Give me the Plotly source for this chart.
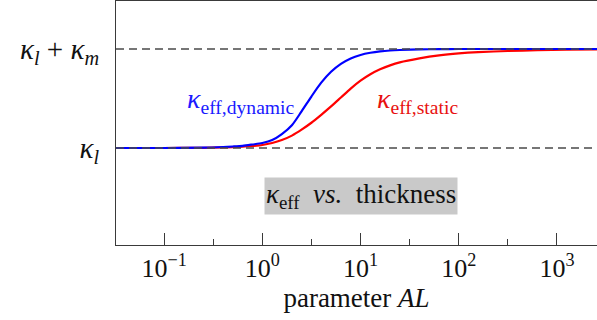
import plotly.graph_objects as go

# Effective stiffness versus thickness parameter AL (kappa_l = 1, kappa_l + kappa_m = 2)
al = [0.032, 0.1, 0.25, 0.4, 0.5, 0.63, 0.79, 1.0, 1.26, 1.58, 2.0, 2.51, 3.16, 3.98,
      5.01, 6.31, 7.94, 10, 12.6, 15.8, 20, 25.1, 39.8, 63.1, 100, 158, 316, 631,
      1259, 2570]
kappa_dynamic = [1.0, 1.0, 1.003, 1.01, 1.015, 1.022, 1.035, 1.05, 1.08, 1.14, 1.23,
                 1.37, 1.52, 1.66, 1.77, 1.85, 1.905, 1.94, 1.962, 1.976, 1.985, 1.99,
                 1.996, 1.999, 2.0, 2.0, 2.0, 2.0, 2.0, 2.0]
kappa_static = [1.0, 1.0, 1.002, 1.006, 1.008, 1.013, 1.02, 1.03, 1.05, 1.08, 1.125,
                1.185, 1.255, 1.335, 1.42, 1.51, 1.60, 1.68, 1.745, 1.795, 1.835, 1.865,
                1.905, 1.935, 1.955, 1.968, 1.98, 1.988, 1.993, 1.996]

kappa_levels = [1.0, 2.0]
kappa_level_labels = ["<i>κ</i><sub><i>l</i></sub>",
                      "<i>κ</i><sub><i>l</i></sub>\u2005+\u2005<i>κ</i><sub><i>m</i></sub>"]

x_tick_vals = [0.1, 1, 10, 100, 1000]
x_tick_text = ["10<sup>−1</sup>", "10<sup>0</sup>", "10<sup>1</sup>",
               "10<sup>2</sup>", "10<sup>3</sup>"]
x_minor_vals = [10 ** (k + 0.5) for k in range(-2, 4)]

FONT = "Liberation Serif"
SPINE = "#3a3a3a"

fig = go.Figure()

fig.add_trace(go.Scatter(x=al, y=kappa_static, mode="lines",
                         line=dict(color="#ff0000", width=2.2, shape="spline", smoothing=0.8),
                         showlegend=False, hoverinfo="skip"))
fig.add_trace(go.Scatter(x=al, y=kappa_dynamic, mode="lines",
                         line=dict(color="#0000ff", width=2.2, shape="spline", smoothing=0.8),
                         showlegend=False, hoverinfo="skip"))

# dashed reference levels drawn above the curves
for lvl in kappa_levels:
    fig.add_shape(type="line", xref="paper", x0=0, x1=1, yref="y", y0=lvl, y1=lvl,
                  line=dict(color="#4a4a4a", width=1.3, dash="8px,5px"), layer="above")

fig.add_annotation(x=-0.217, y=1.475, xref="x", yref="y", showarrow=False,
                   text="<i>κ</i><sub>eff,dynamic</sub>",
                   font=dict(family=FONT, size=28, color="#1a1aff"))
fig.add_annotation(x=1.585, y=1.475, xref="x", yref="y", showarrow=False,
                   text="<i>κ</i><sub>eff,static</sub>",
                   font=dict(family=FONT, size=28, color="#e81010"))
fig.add_annotation(x=1.004, y=0.515, xref="x", yref="y", showarrow=False,
                   text="<i>κ</i><sub>eff</sub>  <i>vs.</i>  thickness",
                   font=dict(family=FONT, size=27, color="#111111"),
                   bgcolor="#c9c9c9", borderpad=1)

fig.update_layout(
    width=597, height=320,
    margin=dict(l=116, r=0, t=1, b=75),
    paper_bgcolor="white", plot_bgcolor="white",
    font=dict(family=FONT, size=24, color="#111111"),
    xaxis=dict(
        type="log", range=[-1.49, 3.408],
        tickvals=x_tick_vals, ticktext=x_tick_text,
        ticks="inside", ticklen=12, tickwidth=1.2, tickcolor=SPINE,
        minor=dict(tickvals=x_minor_vals, ticks="inside", ticklen=6,
                   tickwidth=1.2, tickcolor=SPINE, showgrid=False),
        showline=True, linecolor=SPINE, linewidth=1.3, mirror=True,
        showgrid=False, zeroline=False,
        tickfont=dict(family=FONT, size=26),
        title=dict(text="parameter <i>AL</i>", font=dict(family=FONT, size=27), standoff=3),
    ),
    yaxis=dict(
        range=[0.02, 2.485],
        tickvals=kappa_levels, ticktext=kappa_level_labels,
        ticks="", ticklabelstandoff=10,
        showline=True, linecolor=SPINE, linewidth=1.3, mirror=False,
        showgrid=False, zeroline=False,
        tickfont=dict(family=FONT, size=29),
    ),
)

fig.write_html("out.html")
